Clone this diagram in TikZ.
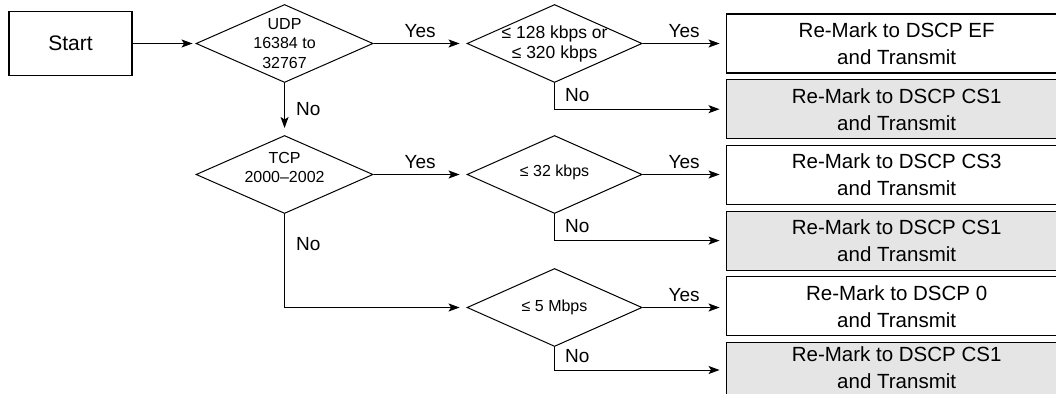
\documentclass[tikz,border=0pt]{standalone}
\usepackage{fontspec}
\setmainfont{Liberation Sans}
\usepackage{tikz}
\usetikzlibrary{shapes.geometric,arrows.meta,positioning,calc}

\begin{document}
\begin{tikzpicture}[
    x=1pt, y=-1pt,
    >={Stealth[length=11pt,width=8pt,inset=2.5pt]},
    startbox/.style={rectangle, draw, line width=1.1pt, minimum width=123pt, minimum height=64pt, font=\fontsize{21}{25}\selectfont},
    decision/.style={diamond, draw, line width=1pt, inner sep=0pt, minimum width=177pt, minimum height=78pt},
    dtext/.style={align=center, inner sep=0pt, font=\fontsize{16}{19.5}\selectfont},
    action/.style={rectangle, draw, line width=1.2pt, minimum width=341pt, minimum height=59pt, inner sep=0pt, align=center, font=\fontsize{20.5}{27}\selectfont},
    drop/.style={action, fill=gray!20},
    arrow/.style={->, line width=1pt, shorten >=7pt},
    answer/.style={inner sep=1pt, font=\fontsize{19}{22}\selectfont}
]
\useasboundingbox (0,0) rectangle (1056,393);
\clip (0,0) rectangle (1056,393);

% Start
\node[startbox] (start) at (70.5,43.5) {Start};

% Decisions
\node[decision, right=63pt of start, label={[dtext]center:UDP\\16384 to\\32767}] (udp) {};
\node[decision, right=93pt of udp, minimum width=175pt,
      label={[dtext, font=\fontsize{17.5}{20}\selectfont]center:≤ 128 kbps or\\≤ 320 kbps}] (udprate) {};
\node[decision, below=52pt of udp, label={[dtext, yshift=7pt]center:TCP\\2000–2002}] (tcp) {};
\node[decision, below=52pt of udprate, minimum width=175pt, label={[dtext, yshift=2pt]center:≤ 32 kbps}] (tcprate) {};
\node[decision, below=54pt of tcprate, minimum width=175pt, label={[dtext]center:≤ 5 Mbps}] (bulkrate) {};

% Actions
\node[action, right=83pt of udprate] (markef) {Re-Mark to DSCP EF\\and Transmit};
\node[drop, below=5.5pt of markef] (udpcs1) {Re-Mark to DSCP CS1\\and Transmit};
\node[action, below=5.5pt of udpcs1] (markcs3) {Re-Mark to DSCP CS3\\and Transmit};
\node[drop, below=5.5pt of markcs3] (tcpcs1) {Re-Mark to DSCP CS1\\and Transmit};
\node[action, below=5.5pt of tcpcs1] (markzero) {Re-Mark to DSCP 0\\and Transmit};
\node[drop, below=5.5pt of markzero, minimum height=55pt, text depth=5pt] (bulkcs1) {Re-Mark to DSCP CS1\\and Transmit};

% Arrows
\draw[arrow, shorten >=3pt] (start) -- (udp);
\draw[arrow] (udp) -- node[answer, above=4pt] {Yes} (udprate);
\draw[arrow] (udp) -- node[answer, right=10pt] {No} (tcp);
\draw[arrow, shorten >=6pt] (udprate) -- node[answer, above=4pt] {Yes} (markef);
\draw[arrow, shorten >=6pt] (udprate.south) |- node[answer, anchor=south west, xshift=9pt, yshift=6pt] {No} (udpcs1.west);
\draw[arrow] (tcp) -- node[answer, above=4pt] {Yes} (tcprate);
\draw[arrow] (tcp.south) |- node[answer, pos=0.16, right=10pt] {No} (bulkrate.west);
\draw[arrow, shorten >=6pt] (tcprate.east) -- node[answer, above=4pt] {Yes} (tcprate.east -| markcs3.west);
\draw[arrow, shorten >=6pt] (tcprate.south) |- node[answer, anchor=south west, xshift=9pt, yshift=6pt] {No} (tcpcs1.west);
\draw[arrow, shorten >=6pt] (bulkrate.east) -- node[answer, above=4pt] {Yes} (bulkrate.east -| markzero.west);
\draw[arrow, shorten >=6pt] (bulkrate.south) |- node[answer, anchor=south west, xshift=9pt, yshift=6pt] {No} (bulkcs1.west);

\end{tikzpicture}
\end{document}
